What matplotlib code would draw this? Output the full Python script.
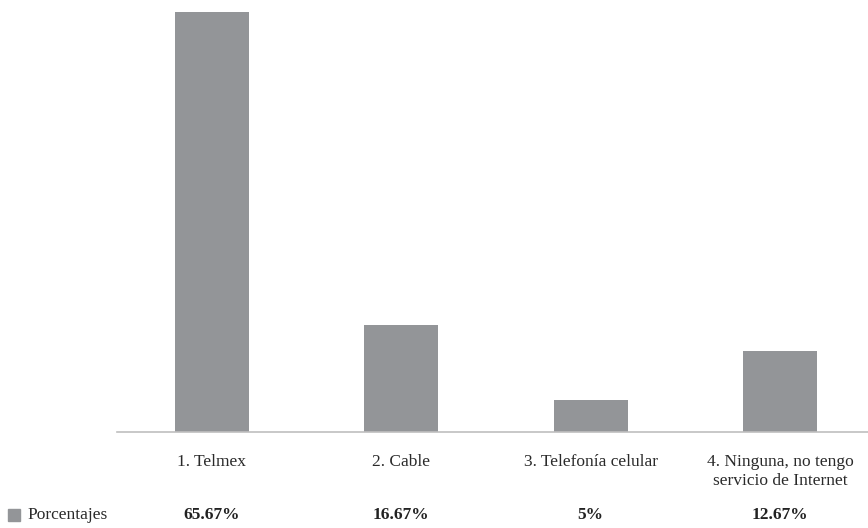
import matplotlib.pyplot as plt

categories = ["1. Telmex", "2. Cable", "3. Telefonía celular",
              "4. Ninguna, no tengo\nservicio de Internet"]
values = [65.67, 16.67, 5, 12.67]
value_labels = ["65.67%", "16.67%", "5%", "12.67%"]
series_name = "Porcentajes"

plt.rcParams["font.family"] = ["Liberation Serif", "DejaVu Serif"]
bar_color = "#939598"

fig = plt.figure(figsize=(8.68, 5.28), dpi=100)
# category slots are ~189.5 px wide; last slot runs past the right edge
slot = 189.5
left = 117
ax = fig.add_axes([left / 868, 1 - 432 / 528, 4 * slot / 868, 432 / 528])

x = list(range(len(categories)))
ax.bar(x, values, width=74 / slot, color=bar_color)
ax.set_xlim(-0.5, len(categories) - 0.5)
ax.set_ylim(0, 65.67 * 432 / 420)

for s in ["top", "right", "left"]:
    ax.spines[s].set_visible(False)
ax.spines["bottom"].set_color("#bfbfbf")
ax.spines["bottom"].set_linewidth(1.2)
ax.set_yticks([])
ax.set_xticks([])

# category labels and table row
for i, (cat, lab) in enumerate(zip(categories, value_labels)):
    ax.text(i, -0.052, cat, transform=ax.get_xaxis_transform(), ha="center",
            va="top", fontsize=12.5, color="#2a2a2a", linespacing=1.2)
    xc = ax.transData.transform((i, 0))[0] / fig.bbox.width
    fig.text(xc, 1 - 515 / 528, lab, ha="center",
             va="center", fontsize=12.5, fontweight="bold", color="#222222")

fig.patches.append(plt.Rectangle((8 / 868, 1 - 521 / 528), 12 / 868, 12 / 528,
                                 transform=fig.transFigure, color=bar_color))
fig.text(27 / 868, 1 - 515 / 528, series_name, ha="left", va="center",
         fontsize=12.5, color="#2a2a2a")

fig.savefig("out.png", dpi=100)
